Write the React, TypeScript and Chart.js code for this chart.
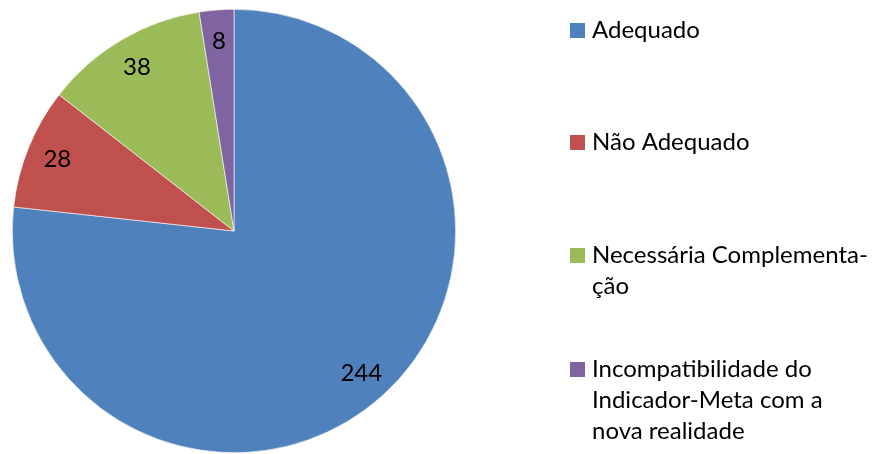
import React, { useEffect, useRef } from "react";
import { Chart, registerables } from "chart.js";

Chart.register(...registerables);

const categories: string[] = [
  "Adequado",
  "Não Adequado",
  "Necessária Complementação",
  "Incompatibilidade do Indicador-Meta com a nova realidade",
];
const legendLines: string[][] = [
  ["Adequado"],
  ["Não Adequado"],
  ["Necessária Complementa-", "ção"],
  ["Incompatibilidade do", "Indicador-Meta com a", "nova realidade"],
];
const values: number[] = [244, 28, 38, 8];
const colors: string[] = ["#4F81BD", "#C0504D", "#9BBB59", "#8064A2"];

const FONT = "Lato";

const legendPlugin = {
  id: "customLegend",
  afterDraw(chart: any) {
    const ctx = chart.ctx;
    ctx.save();
    ctx.font = `24px ${FONT}`;
    ctx.fillStyle = "#000";
    ctx.textBaseline = "alphabetic";
    ctx.textAlign = "left";
    const firstBaselines = [38, 150, 263, 377];
    const lineH = 31;
    legendLines.forEach((lines, i) => {
      const b = firstBaselines[i];
      ctx.fillStyle = colors[i];
      ctx.fillRect(570, b - 15, 15, 15);
      ctx.fillStyle = "#000";
      lines.forEach((t, j) => ctx.fillText(t, 592, b + j * lineH));
    });
    ctx.restore();
  },
};

const valueLabelPlugin = {
  id: "valueLabels",
  afterDatasetsDraw(chart: any) {
    const ctx = chart.ctx;
    const meta = chart.getDatasetMeta(0);
    ctx.save();
    ctx.font = `24px ${FONT}`;
    ctx.fillStyle = "#000";
    ctx.textAlign = "center";
    ctx.textBaseline = "middle";
    meta.data.forEach((arc: any, i: number) => {
      const { x, y, startAngle, endAngle, outerRadius } = arc.getProps(
        ["x", "y", "startAngle", "endAngle", "outerRadius"],
        true
      );
      const mid = (startAngle + endAngle) / 2;
      const r = outerRadius * 0.86;
      ctx.fillText(String(values[i]), x + Math.cos(mid) * r, y + Math.sin(mid) * r);
    });
    ctx.restore();
  },
};

export default function App() {
  const ref = useRef<HTMLCanvasElement | null>(null);
  useEffect(() => {
    if (!ref.current) return;
    const chart = new Chart(ref.current, {
      type: "pie",
      data: {
        labels: categories,
        datasets: [
          {
            data: values,
            backgroundColor: colors,
            borderColor: "#ffffff",
            borderWidth: 0.6,
          },
        ],
      },
      options: {
        responsive: false,
        animation: false,
        layout: { padding: { left: 12, top: 9, right: 420, bottom: 1 } },
        plugins: {
          legend: { display: false },
          tooltip: { enabled: false },
        },
      },
      plugins: [valueLabelPlugin, legendPlugin],
    });
    return () => chart.destroy();
  }, []);
  return (
    <div style={{ position: "fixed", left: 0, top: 0, width: 876, height: 454, background: "#fff" }}>
      <canvas ref={ref} width={876} height={454} style={{ width: 876, height: 454 }} />
    </div>
  );
}
